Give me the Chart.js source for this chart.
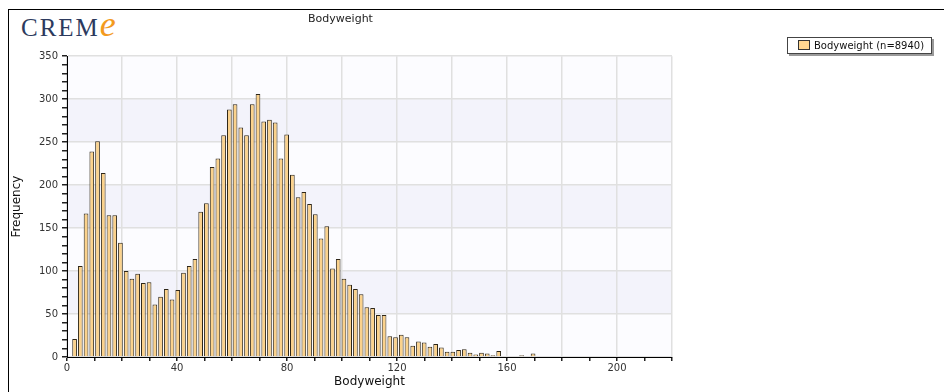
<!DOCTYPE html>
<html lang="en">
<head>
  <meta charset="UTF-8" />
  <title>Bodyweight</title>
  <script src="https://cdn.jsdelivr.net/npm/chart.js"></script>
  <style>
    body {
      margin: 0;
      background: #fff;
      overflow: hidden;
      font-family: "DejaVu Sans", Verdana, sans-serif;
    }
    #frame {
      position: absolute;
      left: 8px;
      top: 9px;
      width: 1000px;
      height: 500px;
      border: 1px solid #000;
    }
    #chartBox {
      position: absolute;
      left: 9px;
      top: 10px;
      width: 958px;
      height: 382px;
    }
    #logo {
      position: absolute;
      left: 21px;
      top: 9px;
      height: 30px;
      line-height: 30px;
      white-space: nowrap;
    }
    #logo .crem {
      font-family: "Liberation Serif", serif;
      font-size: 25px;
      letter-spacing: 2px;
      color: #2c3a5e;
    }
    #logo .e {
      font-family: "Liberation Serif", serif;
      font-style: italic;
      font-size: 36px;
      color: #f39a1e;
    }
    #legend {
      position: absolute;
      left: 787px;
      top: 37px;
      width: 143px;
      height: 15px;
      border: 1px solid #444;
      background: #fff;
      box-shadow: 2px 2px 0 #9a9a9a;
      font-size: 10px;
      line-height: 15px;
      color: #111;
      white-space: nowrap;
    }
    #legend .swatch {
      display: inline-block;
      width: 10px;
      height: 8px;
      margin: 0 4px 0 10px;
      border: 1px solid #333;
      background: #ffd691;
      vertical-align: -1px;
    }
  </style>
</head>
<body>
  <div id="frame"></div>
  <div id="logo"><span class="crem">CREM</span><span class="e">e</span></div>
  <div id="chartBox"><canvas id="bwChart" width="958" height="382"></canvas></div>
  <div id="legend"></div>

  <script>
    // histogram bins (centre of each bin, kg) and their counts
    const binCentres = [
      2.76, 4.84, 6.93, 9.01, 11.10, 13.18, 15.26, 17.35, 19.43, 21.52,
      23.60, 25.68, 27.77, 29.85, 31.94, 34.02, 36.10, 38.19, 40.27, 42.36,
      44.44, 46.52, 48.61, 50.69, 52.78, 54.86, 56.94, 59.03, 61.11, 63.20,
      65.28, 67.36, 69.45, 71.53, 73.62, 75.70, 77.78, 79.87, 81.95, 84.04,
      86.12, 88.20, 90.29, 92.37, 94.46, 96.54, 98.62, 100.71, 102.79, 104.88,
      106.96, 109.04, 111.13, 113.21, 115.30, 117.38, 119.46, 121.55, 123.63, 125.72,
      127.80, 129.88, 131.97, 134.05, 136.14, 138.22, 140.30, 142.39, 144.47, 146.56,
      148.64, 150.72, 152.81, 154.89, 156.98, 159.06, 161.14, 163.23, 165.31, 167.40,
      169.48, 171.56, 173.65, 175.73, 177.82, 179.90, 181.98, 184.07, 186.15, 188.24,
      190.32, 192.40, 194.49, 196.57, 198.66, 200.74, 202.82, 204.91, 206.99
    ];
    const counts = [
      21, 106, 167, 239, 251, 214, 165, 165, 133, 100,
      91, 97, 86, 87, 61, 70, 79, 67, 78, 98,
      106, 114, 169, 179, 221, 231, 258, 288, 294, 267,
      258, 294, 306, 274, 276, 273, 231, 259, 212, 186,
      192, 178, 166, 138, 152, 103, 114, 91, 84, 79,
      73, 58, 57, 49, 49, 24, 23, 26, 23, 13,
      18, 17, 12, 15, 11, 6, 6, 8, 9, 5,
      3, 5, 4, 2, 7, 1, 1, 1, 2, 1,
      4, 1, 1, 0, 1, 1, 0, 0, 0, 0,
      1, 1, 0, 0, 1, 0, 0, 1, 1
    ];
    const seriesLabel = "Bodyweight (n=8940)";
    const xTickLabels = [0, 40, 80, 120, 160, 200];
    const yTickLabels = [0, 50, 100, 150, 200, 250, 300, 350];

    const tickFont = { family: "DejaVu Sans", size: 10 };

    // alternating light bands behind the plot, between every other 50 step
    const bandPlugin = {
      id: "bands",
      beforeDraw(chart) {
        const { ctx, chartArea: a, scales: { y } } = chart;
        ctx.save();
        ctx.fillStyle = "#fcfcff";
        ctx.fillRect(a.left, a.top, a.right - a.left, a.bottom - a.top);
        ctx.fillStyle = "#f3f3fb";
        for (let v = 50; v < 350; v += 100) {
          const top = y.getPixelForValue(v + 50);
          const bottom = y.getPixelForValue(v);
          ctx.fillRect(a.left, top, a.right - a.left, bottom - top);
        }
        ctx.restore();
      }
    };

    const ctx = document.getElementById("bwChart").getContext("2d");
    const chart = new Chart(ctx, {
      type: "bar",
      data: {
        datasets: [{
          label: seriesLabel,
          data: binCentres.map((x, i) => ({ x: x, y: counts[i] })),
          backgroundColor: "#fbd28c",
          borderColor: "#2e2618",
          borderWidth: 1,
          barPercentage: 0.82,
          categoryPercentage: 1
        }]
      },
      options: {
        responsive: false,
        animation: false,
        layout: { padding: { left: 0, right: 295, top: 0, bottom: 0 } },
        plugins: {
          legend: { display: false },
          tooltip: { enabled: false },
          title: {
            display: true,
            text: "Bodyweight",
            color: "#222",
            font: { family: "DejaVu Sans", size: 11, weight: "normal" },
            padding: { top: 3, bottom: 30 }
          }
        },
        scales: {
          x: {
            type: "linear",
            min: 0,
            max: 220,
            offset: false,
            grid: {
              offset: false,
              color: c => (c.tick && c.tick.value % 20 === 0) ? "#e0e0e0" : "rgba(0,0,0,0)",
              lineWidth: 1.5,
              tickColor: "#222",
              tickLength: 4
            },
            border: { color: "#000", width: 1 },
            ticks: {
              stepSize: 10,
              autoSkip: false,
              maxRotation: 0,
              color: "#333",
              font: tickFont,
              padding: 1,
              callback: v => xTickLabels.includes(v) ? String(v) : ""
            },
            title: {
              display: true,
              text: "Bodyweight",
              color: "#111",
              font: { family: "DejaVu Sans", size: 12 },
              padding: { top: 0, bottom: 3 }
            },
            afterFit: s => { s.height = 35; }
          },
          y: {
            min: 0,
            max: 350,
            grid: {
              color: c => (c.tick && c.tick.value % 50 === 0) ? "#e0e0e0" : "rgba(0,0,0,0)",
              lineWidth: 1.5,
              tickColor: "#222",
              tickLength: 5
            },
            border: { color: "#000", width: 1 },
            ticks: {
              stepSize: 10,
              autoSkip: false,
              color: "#333",
              font: tickFont,
              padding: 4,
              callback: v => yTickLabels.includes(v) ? String(v) : ""
            },
            title: {
              display: true,
              text: "Frequency",
              color: "#111",
              font: { family: "DejaVu Sans", size: 12 },
              padding: { top: 1, bottom: 0 }
            },
            afterFit: s => { s.width = 58; }
          }
        }
      },
      plugins: [bandPlugin]
    });

    // boxed legend in the top right corner
    const ds = chart.data.datasets[0];
    document.getElementById("legend").innerHTML =
      '<span class="swatch"></span>' + ds.label;
  </script>
</body>
</html>
